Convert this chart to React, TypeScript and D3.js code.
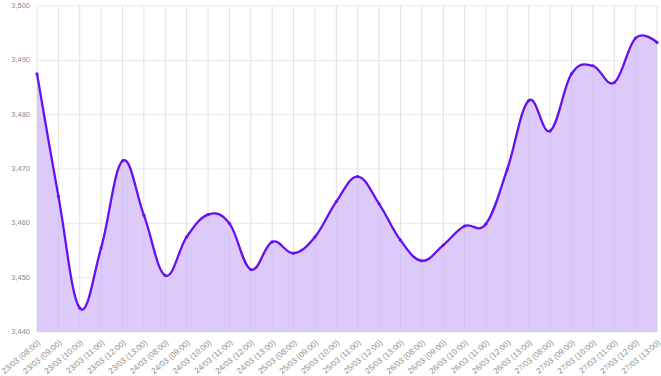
import React from 'react';
import * as d3 from 'd3';

const width = 661;
const height = 376;
const lineColor = '#6610f2';
const fillColor = '#dccbfa';
const gridColor = '#e9e9e9';
const labelColor = '#8c8c8c';

const days = ['23/03', '24/03', '25/03', '26/03', '27/03'];
const hours = ['08:00', '09:00', '10:00', '11:00', '12:00', '13:00'];
const labels = days.flatMap((d) => hours.map((h) => `${d} (${h})`));

const values = [
  3487.5, 3465.0, 3444.4, 3455.5, 3471.5, 3461.5,
  3450.4, 3457.5, 3461.6, 3460.0, 3451.5, 3456.6,
  3454.5, 3457.5, 3464.0, 3468.6, 3463.6, 3456.9,
  3453.1, 3456.0, 3459.5, 3459.9, 3470.0, 3482.6,
  3477.0, 3487.5, 3489.0, 3485.9, 3494.1, 3493.3,
];

const yTicks = [3440, 3450, 3460, 3470, 3480, 3490, 3500];

const margin = { top: 6, right: 4, bottom: 44, left: 37 };

export default function App() {
  const x = d3
    .scalePoint<string>()
    .domain(labels)
    .range([margin.left, width - margin.right]);

  const y = d3
    .scaleLinear()
    .domain([3440, 3500])
    .range([height - margin.bottom, margin.top]);

  const fmt = d3.format(',');
  const curve = d3.curveCardinal.tension(-0.15);

  const line = d3
    .line<number>()
    .x((_, i) => x(labels[i]) as number)
    .y((d) => y(d))
    .curve(curve);

  const area = d3
    .area<number>()
    .x((_, i) => x(labels[i]) as number)
    .y0(y(3440))
    .y1((d) => y(d))
    .curve(curve);

  const font = '"Liberation Sans", Arial, sans-serif';

  return (
    <svg
      width={width}
      height={height}
      style={{ position: 'absolute', left: 0, top: 0, display: 'block' }}
    >
      <rect width={width} height={height} fill="#fff" />
      {/* grid */}
      {yTicks.map((t) => (
        <line
          key={'h' + t}
          x1={margin.left}
          x2={width - margin.right}
          y1={y(t)}
          y2={y(t)}
          stroke={gridColor}
          strokeWidth={1}
        />
      ))}
      {labels.map((l) => (
        <line
          key={'v' + l}
          x1={x(l)}
          x2={x(l)}
          y1={margin.top}
          y2={height - margin.bottom}
          stroke={gridColor}
          strokeWidth={1}
        />
      ))}

      <path d={area(values) || ''} fill={fillColor} />
      {labels.map((l) => (
        <line
          key={'vo' + l}
          x1={x(l)}
          x2={x(l)}
          y1={margin.top}
          y2={height - margin.bottom}
          stroke="rgba(0,0,0,0.04)"
          strokeWidth={1}
        />
      ))}
      <path d={line(values) || ''} fill="none" stroke={lineColor} strokeWidth={2.3} />
      {values.map((v, i) => (
        <circle key={'p' + i} cx={x(labels[i])} cy={y(v)} r={1.6} fill={lineColor} />
      ))}

      {/* y labels */}
      {yTicks.map((t) => (
        <text
          key={'yl' + t}
          x={30}
          y={y(t)}
          textAnchor="end"
          dominantBaseline="middle"
          fontFamily={font}
          fontSize={7.5}
          fill={labelColor}
        >
          {fmt(t)}
        </text>
      ))}

      {/* x labels */}
      {labels.map((l) => (
        <text
          key={'xl' + l}
          transform={`translate(${(x(l) as number) + 2.5},${height - margin.bottom + 10}) rotate(-40)`}
          textAnchor="end"
          dominantBaseline="middle"
          fontFamily={font}
          fontSize={8}
          fill={labelColor}
        >
          {l}
        </text>
      ))}
    </svg>
  );
}
